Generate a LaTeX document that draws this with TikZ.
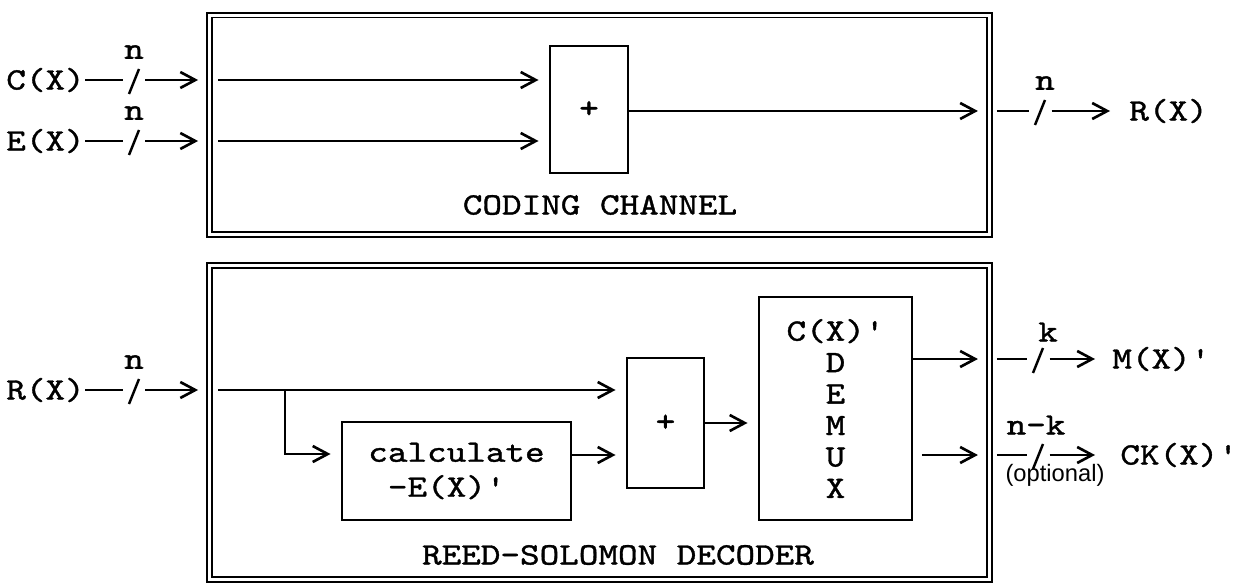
\documentclass[tikz,border=0pt]{standalone}
\usepackage{fontspec}
\setmonofont{lmmono10-regular.otf}[FakeBold=1.2, FakeStretch=1.2]
\newfontfamily\optfont{Liberation Sans}
\usetikzlibrary{arrows.meta,positioning}

\tikzset{
  frame/.style={draw, double, line width=0.9pt, double distance=0.06cm, inner sep=0, outer sep=0},
  blk/.style={draw, line width=1.2pt, inner sep=0, outer sep=0},
  wire/.style={line width=1.1pt},
  sig/.style={wire, -{Straight Barb[length=0.3cm, width=0.32cm, line width=1.5pt]}, shorten >=0.23cm},
  tap/.style={inner sep=0, outer sep=0, minimum width=0.46cm, minimum height=0.1cm},
  lbl/.style={inner sep=0},
}

\begin{document}
\begin{tikzpicture}[x=0.02cm, y=-0.02cm, font=\ttfamily\fontsize{17.7}{17.9}\selectfont]
  \useasboundingbox (0,0) rectangle (1244,584);

  % Frames
  \node[frame, minimum width=15.6cm, minimum height=4.39cm] (chan) at (599.5,124.75) {};
  \node[frame, minimum width=15.6cm, minimum height=6.28cm] (dec) at (599.5,422.5) {};
  \node[lbl] (chanlbl) at (600,205) {CODING CHANNEL};
  \node[lbl] (declbl) at (618,555) {REED-SOLOMON DECODER};

  % Blocks
  \node[blk, minimum width=1.56cm, minimum height=2.54cm] (plus) at (589,109.5) {+};
  \node[blk, minimum width=4.58cm, minimum height=1.96cm, align=left,
        font=\ttfamily\fontsize{17.7}{19.9}\selectfont] (calc) at (456.5,471) {calculate\\\phantom{c}-E(X)'};
  \node[blk, minimum width=1.54cm, minimum height=2.6cm] (plus2) at (665.5,423) {+};
  \node[blk, minimum width=3.06cm, minimum height=4.46cm, align=center] (demux) at (835.5,408.5) {C(X)'\\D\\E\\M\\U\\X};

  % Signal names
  \node[lbl, anchor=east] (cx) at (85,80) {C(X)};
  \node[lbl, anchor=east] (ex) at (85,141) {E(X)};
  \node[lbl, anchor=east] (rin) at (85,390) {R(X)};
  \node[lbl, anchor=west] (rx) at (1129,111) {R(X)};
  \node[lbl, anchor=west] (mx) at (1112,359) {M(X)'};
  \node[lbl, anchor=west] (ck) at (1120,455) {CK(X)'};

  % Bus marks
  \node[tap] (s1) at (134,80) {};
  \node[tap] (s2) at (134,141) {};
  \node[tap] (s3) at (1040,111) {};
  \node[tap] (s4) at (134,390) {};
  \node[tap] (s5) at (1038,359) {};
  \node[tap] (s6) at (1038,455) {};
  \foreach \s in {s1,s2,s3,s4,s5,s6}
    \draw[wire, line width=1.4pt] ([shift={(-5,14)}]\s.center) -- ([shift={(5,-11)}]\s.center);

  \node[lbl] (n1) at ([shift={(0,-28)}]s1.center) {n};
  \node[lbl] (n2) at ([shift={(0,-28)}]s2.center) {n};
  \node[lbl] (n3) at ([shift={(5,-28)}]s3.center) {n};
  \node[lbl] (n4) at ([shift={(0,-28)}]s4.center) {n};
  \node[lbl] (k5) at ([shift={(10,-27)}]s5.center) {k};
  \node[lbl] (nk6) at ([shift={(-2,-30)}]s6.center) {n-k};
  \node[lbl, font=\optfont\fontsize{13.5}{13.5}\selectfont] (opt) at ([shift={(17,20)}]s6.center) {(optional)};

  % Coding channel
  \draw[wire] (cx.east) -- (s1.west);
  \draw[sig] (s1.east) -- (s1 -| chan.west);
  \draw[wire] (ex.east) -- (s2.west);
  \draw[sig] (s2.east) -- (s2 -| chan.west);
  \draw[sig, shorten <=0.17cm] (s1 -| chan.west) -- (s1 -| plus.west);
  \draw[sig, shorten <=0.17cm] (s2 -| chan.west) -- (s2 -| plus.west);
  \draw[sig] (plus.east |- s3) -- (s3 -| chan.east);
  \draw[wire, shorten <=0.15cm] (s3 -| chan.east) -- (s3.west);
  \draw[sig, shorten >=0.38cm] (s3.east) -- (rx.west);

  % Decoder
  \draw[wire] (rin.east) -- (s4.west);
  \draw[sig] (s4.east) -- (s4 -| dec.west);
  \draw[sig, shorten <=0.17cm] (s4 -| dec.west) -- (s4 -| plus2.west);
  \coordinate (br) at (285,390);
  \coordinate (cin) at ([shift={(0,-17)}]calc.west);
  \coordinate (cout) at ([shift={(0,-16)}]calc.east);
  \draw[sig] (br) |- (cin);
  \draw[sig] (cout) -- (cout -| plus2.west);
  \draw[sig] (plus2.east) -- (plus2.east -| demux.west);
  \draw[sig] (demux.east |- s5) -- (s5 -| dec.east);
  \draw[sig, shorten <=0.2cm] (demux.east |- s6) -- (s6 -| dec.east);
  \draw[wire, shorten <=0.15cm] (s5 -| dec.east) -- (s5.west);
  \draw[sig, shorten >=0.34cm] (s5.east) -- (mx.west);
  \draw[wire, shorten <=0.15cm] (s6 -| dec.east) -- (s6.west);
  \draw[sig, shorten >=0.5cm] (s6.east) -- (ck.west);
\end{tikzpicture}
\end{document}
